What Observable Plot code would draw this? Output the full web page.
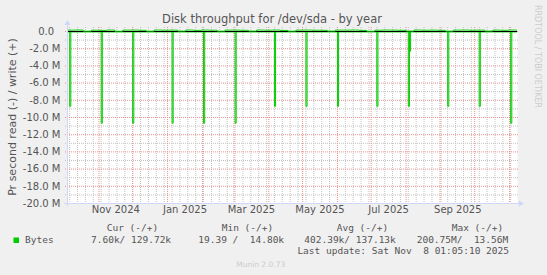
<!DOCTYPE html>
<html><head><meta charset="utf-8">
<script src="https://cdn.jsdelivr.net/npm/d3@7"></script>
<script src="https://cdn.jsdelivr.net/npm/@observablehq/plot@0.6"></script>
<style>
html,body{margin:0;padding:0;background:#f0f0f0;}
#chart{width:547px;height:275px;position:relative;overflow:hidden;background:#f0f0f0}
#chart svg{position:absolute;left:0;top:0}
</style></head><body><div id="chart"></div>
<script>
// ---- Data (values in millions of bytes per second) ----
const startTime = "2024-10-04T01:05:10Z";
const endTime = "2025-11-08T01:05:10Z";

// Read (plotted negative): monthly RAID-check spikes (daily averages)
const readDates = ["2024-10-06","2024-11-03","2024-12-01","2025-01-05","2025-02-02","2025-03-02",
                   "2025-04-06","2025-05-04","2025-06-01","2025-07-06","2025-08-03","2025-08-04",
                   "2025-09-07","2025-10-05","2025-11-02"];
const readValues = [-8.7,-10.66,-10.66,-10.66,-10.66,-10.66,
                    -8.7,-8.7,-8.7,-8.7,-8.7,-2.3,
                    -8.7,-8.7,-10.66];
const readBaseline = -0.05;

// Write (plotted positive): weekly values, near zero
const writeWeekly = [0.16,0.17,0.04,0.15,0.13,0.17,0.03,0.16,0.17,0.14,0.04,0.17,0.15,0.16,0.05,0.17,
                     0.13,0.17,0.15,0.04,0.16,0.16,0.14,0.05,0.17,0.15,0.17,0.13,0.04,0.16,0.17,0.15,
                     0.14,0.05,0.16,0.16,0.17,0.13,0.03,0.15,0.17,0.16,0.14,0.05,0.17,0.15,0.16,0.14,
                     0.04,0.16,0.17,0.15,0.16,0.05,0.16,0.14,0.17,0.15];

// Axis ticks / labels
const yTicks = [0,-2,-4,-6,-8,-10,-12,-14,-16,-18,-20];
const yMinor = [-1,-3,-5,-7,-9,-11,-13,-15,-17,-19];
const monthLabels = ["Nov 2024","Jan 2025","Mar 2025","May 2025","Jul 2025","Sep 2025"];
const monthLabelStarts = ["2024-11-01","2025-01-01","2025-03-01","2025-05-01","2025-07-01","2025-09-01"];

// Legend
const legendHeaders = ["Cur (-/+)","Min (-/+)","Avg (-/+)","Max (-/+)"];
const legendValues = ["7.60k/ 129.72k","19.39 /  14.80k","402.39k/ 137.13k","200.75M/  13.56M"];
const seriesName = "Bytes";
const title = "Disk throughput for /dev/sda - by year";
const yLabel = "Pr second read (-) / write (+)";
const lastUpdate = "Last update: Sat Nov  8 01:05:10 2025";
const footer = "Munin 2.0.73";
const watermark = "RRDTOOL / TOBI OETIKER";

// ---- Build mark data ----
const x0 = new Date(startTime), x1 = new Date(endTime);
const readPts = [{t: x0, v: readBaseline}];
readDates.forEach((d, i) => {
  const t = new Date(d + "T00:00:00Z");
  readPts.push({t, v: readValues[i]});
  readPts.push({t: d3.utcDay.offset(t, 1), v: readBaseline});
});
readPts.push({t: x1, v: readBaseline});

const writePts = writeWeekly.map((v, i) => ({t: d3.utcDay.offset(x0, 7 * i), v}));
writePts.push({t: x1, v: writeWeekly[writeWeekly.length - 1]});

const monthLines = d3.utcMonth.range(x0, x1);
const weekLines = d3.utcSunday.range(x0, x1);
const labelData = monthLabelStarts.map((s, i) => {
  const a = new Date(s + "T00:00:00Z"), b = d3.utcMonth.offset(a, 1);
  return {t: new Date((+a + +b) / 2), label: monthLabels[i]};
});

const GREEN = "#00cc00", MAJ = "#ee9090", MIN = "#c2c2c2", AXIS = "#cfd6f8", FONT = "#555";

const plot = Plot.plot({
  width: 547, height: 275,
  marginLeft: 67, marginRight: 30, marginTop: 29, marginBottom: 72,
  style: {background: "transparent", fontFamily: "DejaVu Sans", fontSize: "10px", color: FONT},
  x: {type: "utc", domain: [x0, x1], axis: null, label: null},
  y: {domain: [-20, 0.2326], axis: null, label: null},
  marks: [
    Plot.frame({fill: "white", stroke: null}),
    Plot.ruleY(yMinor, {stroke: MIN, strokeDasharray: "1,1", insetLeft: -2, insetRight: -2}),
    Plot.ruleX(weekLines, {stroke: MIN, strokeDasharray: "1,1", insetTop: -2, insetBottom: -2}),
    Plot.ruleY(yTicks, {stroke: MAJ, strokeDasharray: "1,1", insetLeft: -2, insetRight: -2}),
    Plot.ruleX(monthLines, {stroke: MAJ, strokeDasharray: "1,1", insetTop: -2, insetBottom: -2}),
    Plot.line(readPts, {x: "t", y: "v", curve: "step-after", stroke: GREEN, strokeWidth: 1, clip: true}),
    Plot.ruleY([0], {stroke: "#000", strokeWidth: 1.2}),
    Plot.line(writePts, {x: "t", y: "v", curve: "step-after", stroke: GREEN, strokeWidth: 1, clip: true}),
    Plot.axisY(yTicks, {tickSize: 0, tickPadding: 7, fontSize: 10, fill: FONT, label: null,
      tickFormat: d => d === 0 ? "0.0\u00a0\u00a0" : d.toFixed(1) + " M"}),
    Plot.text(labelData, {x: "t", text: "label", frameAnchor: "bottom", dy: 9, fontSize: 10, fill: FONT})
  ]
});
document.getElementById("chart").appendChild(plot);

// ---- Decorations (axes arrows, titles, legend) ----
const svg = d3.select(plot);
const xs = plot.scale("x"), ys = plot.scale("y");
const L = xs.apply(x0), R = xs.apply(x1), B = ys.apply(-20), T = ys.apply(0.2326);
const g = svg.append("g");
g.append("line").attr("x1", L - 3).attr("x2", R + 2).attr("y1", B + 0.5).attr("y2", B + 0.5).attr("stroke", AXIS);
g.append("line").attr("x1", L + 0.5).attr("x2", L + 0.5).attr("y1", B + 3).attr("y2", T - 5).attr("stroke", AXIS);
g.append("path").attr("d", `M${R + 2},${B - 2.5}L${R + 7},${B + 0.5}L${R + 2},${B + 3.5}Z`).attr("fill", AXIS);
g.append("path").attr("d", `M${L - 2.5},${T - 4}L${L + 0.5},${T - 9}L${L + 3.5},${T - 4}Z`).attr("fill", AXIS);

g.append("text").attr("x", 272).attr("y", 23.3).attr("text-anchor", "middle")
  .attr("font-family", "DejaVu Sans").attr("font-size", 11.5).attr("fill", FONT).text(title);
g.append("text").attr("transform", "translate(15.5,117) rotate(-90)").attr("text-anchor", "middle")
  .attr("font-family", "DejaVu Sans").attr("font-size", 11).attr("fill", FONT).text(yLabel);
g.append("text").attr("transform", "translate(535,5) rotate(90)").attr("text-anchor", "start")
  .attr("font-family", "DejaVu Sans").attr("font-size", 8).attr("fill", "#cccccc").text(watermark);

const mono = (x, y, s, anchor = "start") => g.append("text").attr("x", x).attr("y", y)
  .attr("text-anchor", anchor).attr("xml:space", "preserve").style("white-space", "pre")
  .attr("font-family", "DejaVu Sans Mono").attr("font-size", 9.5).attr("fill", FONT).text(s);
const headerX = [106.7, 221.7, 336.7, 451.7];
const valueX = [91, 198.3, 304.3, 416.7];
legendHeaders.forEach((h, i) => mono(headerX[i], 231, h));
g.append("rect").attr("x", 13.5).attr("y", 237.5).attr("width", 5.5).attr("height", 5.5).attr("fill", GREEN);
mono(25, 243.3, seriesName);
legendValues.forEach((v, i) => mono(valueX[i], 243.3, v));
mono(509, 254.3, lastUpdate, "end");
g.append("text").attr("x", 260.7).attr("y", 266.5).attr("text-anchor", "middle")
  .attr("font-family", "DejaVu Sans").attr("font-size", 7.5).attr("fill", "#cccccc").text(footer);
</script></body></html>
